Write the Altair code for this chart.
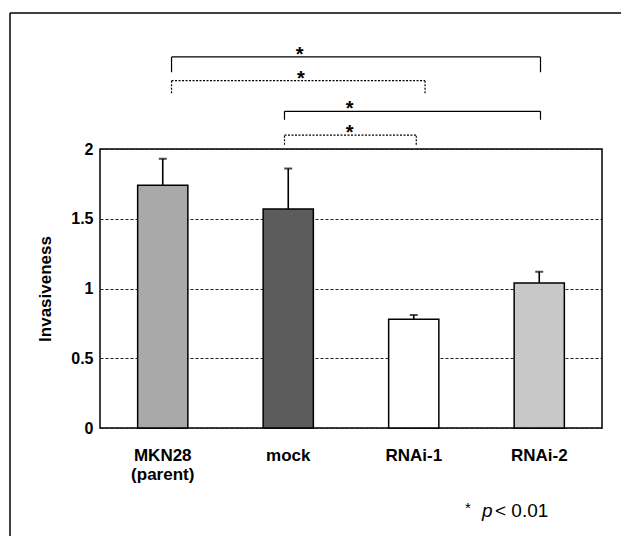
import altair as alt
import pandas as pd

# ---- data ----
categories = ["MKN28 (parent)", "mock", "RNAi-1", "RNAi-2"]
means = [1.74, 1.57, 0.78, 1.04]
err_tops = [1.93, 1.86, 0.81, 1.12]
bar_colors = ["#a9a9a9", "#5c5c5c", "#ffffff", "#c8c8c8"]
y_ticks = [0, 0.5, 1, 1.5, 2]

# significance brackets (x in category-index units: centre of category i = i + 0.5)
br_x1 = [0.57, 0.57, 1.47, 1.47]
br_x2 = [3.51, 2.59, 3.51, 2.52]
br_y = [2.66, 2.49, 2.27, 2.10]
br_leg = [2.55, 2.40, 2.21, 2.03]
br_style = ["solid", "dotted", "solid", "dotted"]
star_x = [1.59, 1.60, 1.99, 1.99]

FONT = "Liberation Sans"

bars_df = pd.DataFrame({"cat": categories, "mean": means, "top": err_tops, "color": bar_colors})

seg_rows = []
for x1, x2, y, leg, st in zip(br_x1, br_x2, br_y, br_leg, br_style):
    seg_rows.append({"x": x1, "x2": x2, "y": y, "y2": y, "style": st})
    seg_rows.append({"x": x1, "x2": x1, "y": leg, "y2": y, "style": st})
    seg_rows.append({"x": x2, "x2": x2, "y": leg, "y2": y, "style": st})
seg_df = pd.DataFrame(seg_rows)
star_df = pd.DataFrame({"x": star_x, "y": br_y})
one = pd.DataFrame({"a": [0]})

xband = alt.X(
    "cat:N",
    sort=categories,
    scale=alt.Scale(paddingInner=0.6, paddingOuter=0.3),
    axis=alt.Axis(
        title=None, labelAngle=0, ticks=False, domain=False,
        labelFontSize=17, labelFontWeight="bold", labelFont=FONT,
        labelColor="#000", labelBaseline="middle", labelPadding=27,
        labelLineHeight=19,
        labelExpr="datum.value == 'MKN28 (parent)' ? ['MKN28', '(parent)'] : datum.label",
    ),
)
yq = alt.Y(
    "mean:Q",
    scale=alt.Scale(domain=[0, 2], nice=False),
    axis=alt.Axis(
        values=y_ticks, format="~g", title="Invasiveness",
        grid=True, gridDash=[3, 2], gridColor="#222", gridWidth=1.2,
        ticks=False, domain=False,
        labelFontSize=16, labelFontWeight="bold", labelFont=FONT, labelColor="#000",
        labelPadding=7, titleFontSize=17, titleFontWeight="bold", titleFont=FONT,
        titleColor="#000", titlePadding=16,
    ),
)

bars = alt.Chart(bars_df).mark_bar(stroke="#000", strokeWidth=1.5).encode(
    x=xband, y=yq, color=alt.Color("color:N", scale=None)
)
stems = alt.Chart(bars_df).mark_rule(color="#000", strokeWidth=1.6).encode(
    x=alt.X("cat:N", sort=categories), y="mean:Q", y2="top:Q"
)
caps = alt.Chart(bars_df).mark_tick(color="#000", size=8, thickness=2).encode(
    x=alt.X("cat:N", sort=categories), y=alt.Y("top:Q")
)
bar_layer = alt.layer(bars, stems, caps)

xq = alt.X("x:Q", scale=alt.Scale(domain=[0, 4], nice=False), axis=None)
segs = alt.Chart(seg_df).mark_rule(color="#000", strokeWidth=1.2).encode(
    x=xq, x2="x2:Q", y="y:Q", y2="y2:Q",
    strokeDash=alt.StrokeDash(
        "style:N",
        scale=alt.Scale(domain=["solid", "dotted"], range=[[1, 0], [2, 1.5]]),
        legend=None,
    ),
)
stars = alt.Chart(star_df).mark_text(
    text="*", fontSize=20, fontWeight="bold", font=FONT, color="#000",
    baseline="alphabetic", dy=4
).encode(x=xq, y="y:Q")
annot_layer = alt.layer(segs, stars)

frame_left = alt.Chart(one).mark_rule(color="#000", strokeWidth=1.5).encode(
    x=alt.value(-90), y=alt.value(-136), y2=alt.value(387)
)
frame_top = alt.Chart(one).mark_rule(color="#000", strokeWidth=1.5).encode(
    x=alt.value(-90), x2=alt.value(521), y=alt.value(-136)
)

foot_star = alt.Chart(one).mark_text(
    text="*", fontSize=15, font=FONT, color="#000", align="left", baseline="alphabetic"
).encode(x=alt.value(365), y=alt.value(364))
foot_p = alt.Chart(one).mark_text(
    text="p", fontSize=19, font=FONT, fontStyle="italic", color="#000",
    align="left", baseline="alphabetic"
).encode(x=alt.value(382), y=alt.value(368))
foot_val = alt.Chart(one).mark_text(
    text="< 0.01", fontSize=19, font=FONT, color="#000", align="left", baseline="alphabetic"
).encode(x=alt.value(395), y=alt.value(368))

chart = (
    alt.layer(bar_layer, annot_layer, frame_left, frame_top, foot_star, foot_p, foot_val)
    .resolve_scale(x="independent")
    .properties(
        width=502, height=279,
        autosize=alt.AutoSizeParams(type="none"),
        padding={"left": 92, "top": 141, "right": 19, "bottom": 108},
        background="#ffffff",
    )
    .configure_view(stroke="#000", strokeWidth=1.5)
)

chart.save("out.html", embed_options={"renderer": "svg", "actions": False})
